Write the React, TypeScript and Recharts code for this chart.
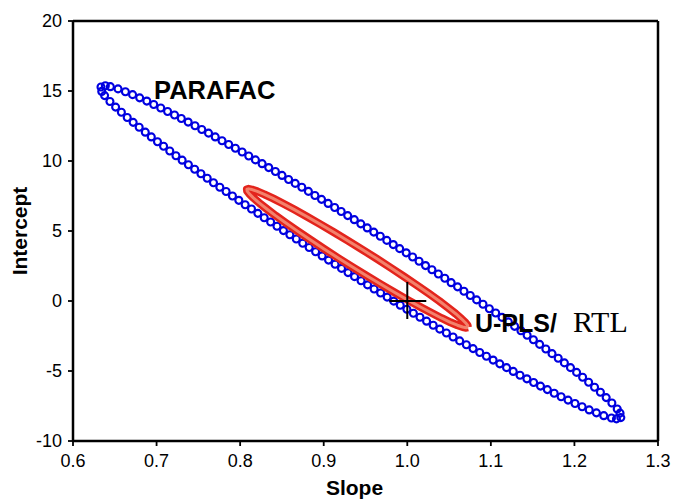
import React from 'react';
import { ScatterChart, Scatter, XAxis, YAxis, ReferenceLine, ReferenceDot } from 'recharts';

if (typeof document !== 'undefined') {
  document.body.style.margin = '0';
}

// Axis ticks
const xTicks = [0.6, 0.7, 0.8, 0.9, 1.0, 1.1, 1.2, 1.3];
const yTicks = [-10, -5, 0, 5, 10, 15, 20];

// PARAFAC joint confidence region (blue circles)
const parafacSlope = [
  0.6335, 0.6387, 0.6447, 0.6539, 0.6627, 0.6713, 0.6798, 0.6883, 0.6966, 0.7050, 0.7132, 0.7215, 0.7296, 0.7378,
  0.7460, 0.7541, 0.7622, 0.7702, 0.7783, 0.7863, 0.7943, 0.8024, 0.8103, 0.8183, 0.8263, 0.8342, 0.8422, 0.8501,
  0.8580, 0.8659, 0.8738, 0.8817, 0.8895, 0.8974, 0.9053, 0.9131, 0.9209, 0.9287, 0.9366, 0.9444, 0.9521, 0.9599,
  0.9677, 0.9755, 0.9832, 0.9909, 0.9987, 1.0064, 1.0141, 1.0218, 1.0295, 1.0372, 1.0449, 1.0525, 1.0602, 1.0678,
  1.0754, 1.0830, 1.0906, 1.0982, 1.1058, 1.1134, 1.1209, 1.1284, 1.1360, 1.1434, 1.1509, 1.1584, 1.1658, 1.1732,
  1.1806, 1.1880, 1.1953, 1.2026, 1.2098, 1.2170, 1.2241, 1.2311, 1.2380, 1.2448, 1.2512, 1.2546, 1.2555,
  1.2503, 1.2443, 1.2351, 1.2263, 1.2177, 1.2092, 1.2007, 1.1924, 1.1841, 1.1758, 1.1676, 1.1594, 1.1512, 1.1431,
  1.1349, 1.1268, 1.1188, 1.1107, 1.1027, 1.0947, 1.0867, 1.0787, 1.0707, 1.0627, 1.0548, 1.0468, 1.0389, 1.0310,
  1.0231, 1.0152, 1.0073, 0.9995, 0.9916, 0.9838, 0.9759, 0.9681, 0.9603, 0.9525, 0.9447, 0.9369, 0.9291,
  0.9213, 0.9136, 0.9058, 0.8981, 0.8903, 0.8826, 0.8749, 0.8672, 0.8595, 0.8518, 0.8441, 0.8365, 0.8288, 0.8212,
  0.8136, 0.8060, 0.7984, 0.7908, 0.7832, 0.7757, 0.7681, 0.7606, 0.7531, 0.7456, 0.7381, 0.7306, 0.7232, 0.7158,
  0.7084, 0.7011, 0.6937, 0.6865, 0.6792, 0.6720, 0.6649, 0.6579, 0.6510, 0.6442, 0.6378, 0.6344,
];
const parafacIntercept = [
  15.29, 15.38, 15.31, 15.15, 14.95, 14.74, 14.51, 14.28, 14.04, 13.79, 13.54, 13.29, 13.04, 12.78,
  12.52, 12.25, 11.99, 11.72, 11.45, 11.18, 10.91, 10.64, 10.36, 10.08, 9.81, 9.53, 9.25, 8.97,
  8.68, 8.40, 8.12, 7.83, 7.54, 7.26, 6.97, 6.68, 6.39, 6.10, 5.81, 5.51, 5.22, 4.92,
  4.63, 4.33, 4.03, 3.74, 3.44, 3.14, 2.84, 2.53, 2.23, 1.93, 1.62, 1.31, 1.01, 0.70,
  0.39, 0.08, -0.23, -0.55, -0.86, -1.17, -1.49, -1.81, -2.13, -2.45, -2.77, -3.10, -3.43, -3.76,
  -4.09, -4.42, -4.76, -5.10, -5.45, -5.80, -6.16, -6.52, -6.90, -7.29, -7.71, -8.01, -8.33,
  -8.42, -8.36, -8.19, -7.99, -7.78, -7.55, -7.32, -7.08, -6.84, -6.59, -6.33, -6.08, -5.82, -5.56,
  -5.30, -5.03, -4.76, -4.49, -4.22, -3.95, -3.68, -3.40, -3.13, -2.85, -2.57, -2.29, -2.01, -1.73,
  -1.44, -1.16, -0.87, -0.59, -0.30, -0.01, 0.28, 0.57, 0.86, 1.15, 1.45, 1.74, 2.03,
  2.33, 2.63, 2.92, 3.22, 3.52, 3.82, 4.12, 4.43, 4.73, 5.03, 5.34, 5.64, 5.95, 6.26,
  6.57, 6.88, 7.19, 7.50, 7.82, 8.13, 8.45, 8.77, 9.09, 9.41, 9.73, 10.06, 10.38, 10.71,
  11.05, 11.38, 11.72, 12.06, 12.41, 12.76, 13.11, 13.48, 13.85, 14.25, 14.67, 14.97,
];

// U-PLS/RTL joint confidence region (red)
const uplsSlope = [
  1.0725, 1.0722, 1.0696, 1.0648, 1.0579, 1.0490, 1.0383, 1.0258, 1.0119, 0.9967, 0.9806, 0.9638, 0.9466,
  0.9293, 0.9122, 0.8956, 0.8797, 0.8649, 0.8513, 0.8393, 0.8290, 0.8206, 0.8143, 0.8101, 0.8081,
  0.8084, 0.8110, 0.8158, 0.8227, 0.8316, 0.8424, 0.8548, 0.8687, 0.8839, 0.9000, 0.9168, 0.9340,
  0.9513, 0.9684, 0.9850, 1.0009, 1.0157, 1.0293, 1.0413, 1.0516, 1.0600, 1.0663, 1.0705, 1.0725,
];
const uplsIntercept = [
  -1.88, -1.75, -1.55, -1.27, -0.91, -0.49, 0.00, 0.53, 1.11, 1.72, 2.36, 3.01, 3.66,
  4.29, 4.91, 5.49, 6.04, 6.53, 6.96, 7.33, 7.62, 7.83, 7.96, 8.01, 7.98,
  7.85, 7.65, 7.37, 7.01, 6.59, 6.10, 5.57, 4.99, 4.38, 3.74, 3.09, 2.44,
  1.81, 1.19, 0.61, 0.06, -0.43, -0.86, -1.23, -1.52, -1.73, -1.86, -1.91, -1.88,
];

// Ideal point (slope 1, intercept 0)
const idealSlope = [1.0];
const idealIntercept = [0];

// Annotation anchors (data coordinates)
const parafacLabelAt = { slope: 0.697, intercept: 14.46 };
const uplsLabelAt = { slope: 1.0809, intercept: -2.19 };

const toPoints = (s: number[], i: number[]) => s.map((v, k) => ({ slope: v, intercept: i[k] }));
const parafacData = toPoints(parafacSlope, parafacIntercept);
const uplsData = toPoints(uplsSlope, uplsIntercept);
const idealData = toPoints(idealSlope, idealIntercept);

const SANS = '"Liberation Sans", Arial, sans-serif';
const SERIF = '"Liberation Serif", "Times New Roman", serif';

const BlueRing = (p: any) => (
  <circle cx={p.cx} cy={p.cy} r={3.5} fill="none" stroke="#0000e0" strokeWidth={2.1} />
);
const NoShape = () => <g />;
const CrossShape = (p: any) => (
  <g stroke="#000" strokeWidth={2}>
    <line x1={p.cx - 18} y1={p.cy} x2={p.cx + 19} y2={p.cy} />
    <line x1={p.cx} y1={p.cy - 19} x2={p.cx} y2={p.cy + 18} />
  </g>
);

const tickStyle = { fontSize: 18, fill: '#000', fontFamily: SANS };

export default function App() {
  return (
    <ScatterChart width={674} height={499} margin={{ top: 21, right: 16, left: 0, bottom: 0 }}>
      <XAxis
        type="number"
        dataKey="slope"
        domain={[0.6, 1.3]}
        ticks={xTicks}
        tickFormatter={(v: number) => v.toFixed(1)}
        height={58}
        tick={tickStyle}
        tickSize={5}
        tickMargin={8}
        axisLine={{ stroke: '#000', strokeWidth: 2.5 }}
        tickLine={{ stroke: '#000', strokeWidth: 1.8 }}
        label={{
          content: (props: any) => {
            const vb = props.viewBox || { x: 73, y: 441, width: 585 };
            return (
              <text x={vb.x + vb.width / 2 - 11} y={vb.y + 54} textAnchor="middle" fontFamily={SANS} fontWeight="bold" fontSize={21} fill="#000">
                Slope
              </text>
            );
          },
        }}
      />
      <YAxis
        type="number"
        dataKey="intercept"
        domain={[-10, 20]}
        ticks={yTicks}
        width={73}
        tick={tickStyle}
        tickSize={5}
        tickMargin={6}
        axisLine={{ stroke: '#000', strokeWidth: 2.5 }}
        tickLine={{ stroke: '#000', strokeWidth: 1.8 }}
        label={{
          content: (props: any) => {
            const vb = props.viewBox || { x: 0, y: 21, height: 420 };
            const cx = vb.x + 19;
            const cy = vb.y + vb.height / 2;
            return (
              <text x={cx} y={cy} transform={`rotate(-90 ${cx} ${cy})`} textAnchor="middle" dominantBaseline="central" fontFamily={SANS} fontWeight="bold" fontSize={21} fill="#000">
                Intercept
              </text>
            );
          },
        }}
      />
      <ReferenceLine y={20} stroke="#000" strokeWidth={2.5} />
      <ReferenceLine x={1.3} stroke="#000" strokeWidth={2.5} />
      <Scatter data={parafacData} shape={BlueRing} isAnimationActive={false} />
      <Scatter
        data={uplsData}
        shape={NoShape}
        line={{ stroke: '#e3241c', strokeWidth: 8, strokeLinejoin: 'round', fill: 'none' }}
        isAnimationActive={false}
      />
      <Scatter
        data={uplsData}
        shape={NoShape}
        line={{ stroke: '#f3826c', strokeWidth: 3, strokeLinejoin: 'round', fill: 'none' }}
        isAnimationActive={false}
      />
      <Scatter data={idealData} shape={CrossShape} isAnimationActive={false} />
      <ReferenceDot
        x={parafacLabelAt.slope}
        y={parafacLabelAt.intercept}
        r={1}
        fill="none"
        stroke="none"
        label={{
          content: (props: any) => {
            const vb = props.viewBox;
            if (!vb) return null;
            return (
              <text x={vb.x + vb.width / 2} y={vb.y + vb.height / 2} fontFamily={SANS} fontWeight="bold" fontSize={25.5} fill="#000">
                PARAFAC
              </text>
            );
          },
        }}
      />
      <ReferenceDot
        x={uplsLabelAt.slope}
        y={uplsLabelAt.intercept}
        r={1}
        fill="none"
        stroke="none"
        label={{
          content: (props: any) => {
            const vb = props.viewBox;
            if (!vb) return null;
            const x = vb.x + vb.width / 2;
            const y = vb.y + vb.height / 2;
            return (
              <text x={x} y={y} fill="#000">
                <tspan fontFamily={SANS} fontWeight="bold" fontSize={25}>U-PLS/</tspan>
                <tspan x={x + 98} fontFamily={SERIF} fontSize={30}>RTL</tspan>
              </text>
            );
          },
        }}
      />
    </ScatterChart>
  );
}
